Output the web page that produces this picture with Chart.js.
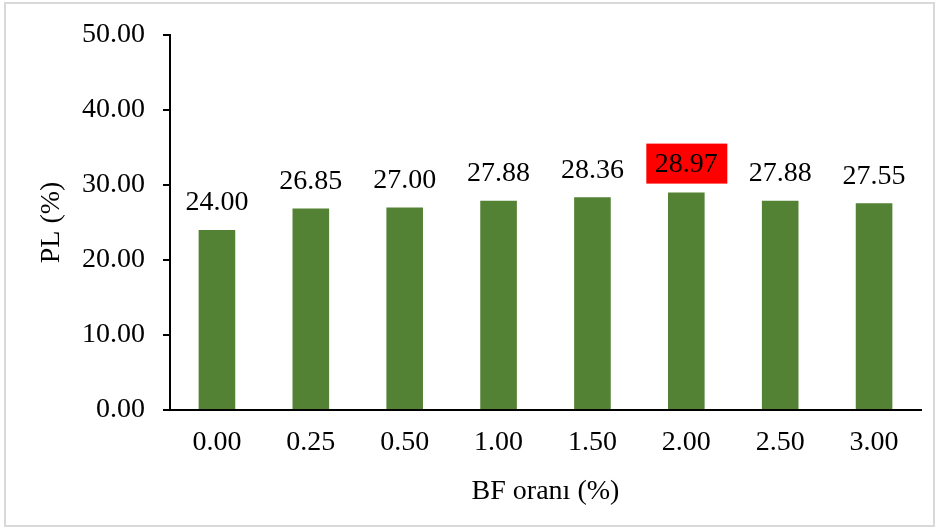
<!DOCTYPE html>
<html>
<head>
<meta charset="utf-8">
<script src="https://cdn.jsdelivr.net/npm/chart.js@4/dist/chart.umd.min.js"></script>
<style>
  html, body { margin: 0; padding: 0; background: #fff; }
  canvas { display: block; }
</style>
</head>
<body>
<canvas id="c" width="939" height="530"></canvas>
<script>
// BF ratio categories and measured PL values
const categories = ['0.00', '0.25', '0.50', '1.00', '1.50', '2.00', '2.50', '3.00'];
const plValues = [24.00, 26.85, 27.00, 27.88, 28.36, 28.97, 27.88, 27.55];
const yTicks = [0, 10, 20, 30, 40, 50];
const highlightIndex = 5; // highest value gets a red label box

const SERIF = '"Liberation Serif", "Times New Roman", Times, serif';
const FONT_SIZE = 28;

// Value labels above each bar, drawn from the bar elements' positions
const valueLabels = {
  id: 'valueLabels',
  afterDatasetsDraw(chart) {
    const ctx = chart.ctx;
    const meta = chart.getDatasetMeta(0);
    ctx.save();
    ctx.font = FONT_SIZE + 'px ' + SERIF;
    ctx.textAlign = 'center';
    ctx.textBaseline = 'middle';
    meta.data.forEach((bar, i) => {
      const text = plValues[i].toFixed(2);
      const cx = bar.x;
      if (i === highlightIndex) {
        const cy = bar.y - 29;
        ctx.fillStyle = '#ff0000';
        ctx.fillRect(cx - 40, cy - 20, 81, 40);
        ctx.fillStyle = '#000';
        ctx.fillText(text, cx, cy + 1);
      } else {
        const cy = bar.y - 27;
        ctx.fillStyle = '#000';
        ctx.fillText(text, cx, cy);
      }
    });
    ctx.restore();
  }
};

// Thin light frame around the whole figure
const frame = {
  id: 'frame',
  afterDraw(chart) {
    const ctx = chart.ctx;
    ctx.save();
    ctx.strokeStyle = '#d9d9d9';
    ctx.lineWidth = 2;
    ctx.strokeRect(5, 3, 929, 523);
    ctx.restore();
  }
};

new Chart(document.getElementById('c'), {
  type: 'bar',
  data: {
    labels: categories,
    datasets: [{
      data: plValues,
      backgroundColor: '#548235',
      borderWidth: 0,
      barPercentage: 0.39,
      categoryPercentage: 1.0
    }]
  },
  options: {
    responsive: false,
    animation: false,
    layout: { padding: { left: 0, right: 18, top: 32, bottom: 0 } },
    plugins: {
      legend: { display: false },
      tooltip: { enabled: false }
    },
    scales: {
      x: {
        afterFit: s => { s.height = 120; },
        grid: { display: false, drawTicks: false },
        border: { display: true, color: '#000', width: 2 },
        ticks: {
          color: '#000',
          padding: 16,
          font: { family: SERIF, size: FONT_SIZE }
        },
        title: {
          display: true,
          text: 'BF oranı (%)',
          color: '#000',
          font: { family: SERIF, size: FONT_SIZE },
          padding: { top: 0, bottom: 22 }
        }
      },
      y: {
        min: 0,
        max: 50,
        afterFit: s => { s.width = 170; },
        afterBuildTicks: s => { s.ticks = yTicks.map(v => ({ value: v })); },
        grid: { drawOnChartArea: false, drawTicks: true, tickLength: 7, color: '#000', lineWidth: 2 },
        border: { display: true, color: '#000', width: 2 },
        ticks: {
          color: '#000',
          padding: 18,
          font: { family: SERIF, size: FONT_SIZE },
          callback: v => Number(v).toFixed(2)
        },
        title: {
          display: true,
          text: 'PL (%)',
          color: '#000',
          font: { family: SERIF, size: FONT_SIZE },
          padding: { top: 35, bottom: 0 }
        }
      }
    }
  },
  plugins: [valueLabels, frame]
});
</script>
</body>
</html>
